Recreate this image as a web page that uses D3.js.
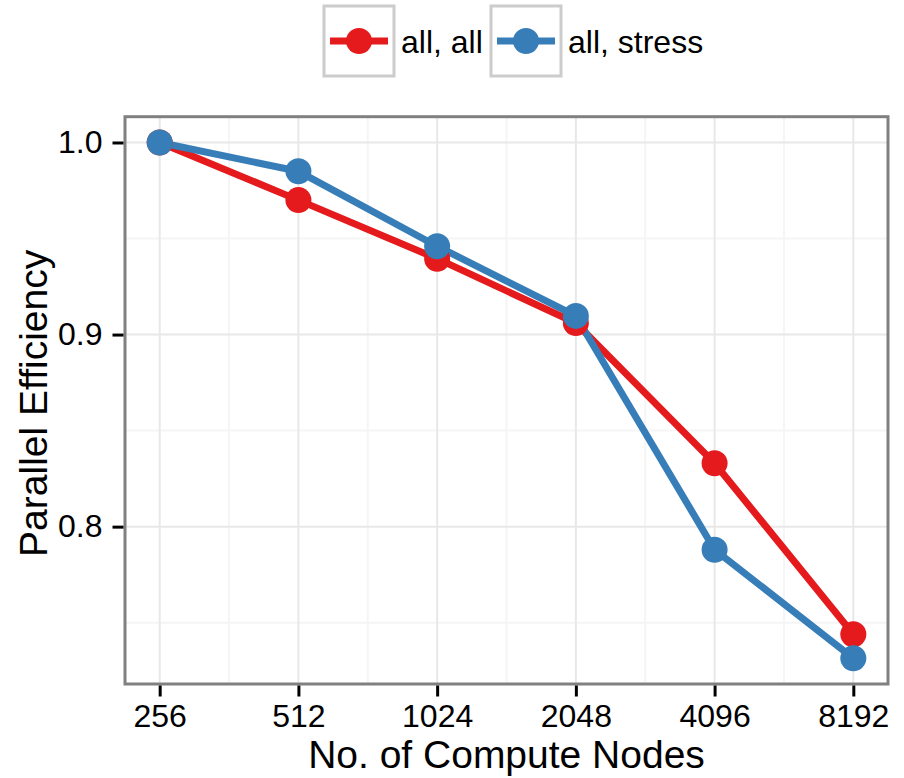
<!DOCTYPE html>
<html>
<head>
<meta charset="utf-8">
<script src="https://cdn.jsdelivr.net/npm/d3@7"></script>
<style>
  html, body { margin: 0; padding: 0; background: #ffffff; }
  svg { display: block; }
  text { font-family: "Liberation Sans", Arial, Helvetica, sans-serif; fill: #000; }
</style>
</head>
<body>
<svg id="chart" width="904" height="778"></svg>
<script>
// ---- data ----
const nodes = [256, 512, 1024, 2048, 4096, 8192];
const tickLabels = ["256", "512", "1024", "2048", "4096", "8192"];
const allAll = [1.000, 0.970, 0.9395, 0.906, 0.833, 0.744];
const allStress = [1.000, 0.985, 0.946, 0.9097, 0.788, 0.7315];
const yTicks = [0.8, 0.9, 1.0];
const yTickLabels = ["0.8", "0.9", "1.0"];
const seriesNames = ["all, all", "all, stress"];
const seriesColors = ["#E41A1C", "#377EB8"];
const xTitle = "No. of Compute Nodes";
const yTitle = "Parallel Efficiency";

// ---- layout ----
const W = 904, H = 778;
const panel = { left: 125, right: 888, top: 116.7, bottom: 684 };

const svg = d3.select("#chart");
svg.append("rect").attr("width", W).attr("height", H).attr("fill", "#fff");

// scales (ggplot-like 5% expansion)
const lx = nodes.map(d => Math.log2(d));
const lxMin = d3.min(lx), lxMax = d3.max(lx), lxR = lxMax - lxMin;
const x = d3.scaleLog().base(2)
  .domain([Math.pow(2, lxMin - 0.05 * lxR), Math.pow(2, lxMax + 0.05 * lxR)])
  .range([panel.left, panel.right]);

const allVals = allAll.concat(allStress);
const yMin = d3.min(allVals), yMax = d3.max(allVals), yR = yMax - yMin;
const y = d3.scaleLinear()
  .domain([yMin - 0.05 * yR, yMax + 0.05 * yR])
  .range([panel.bottom, panel.top]);

const g = svg.append("g");

// minor grid
const xMinor = d3.range(lxMin + 0.5, lxMax, 1).map(v => Math.pow(2, v));
const yMinor = [0.75, 0.85, 0.95];
g.selectAll(".xminor").data(xMinor).enter().append("line")
  .attr("x1", d => x(d)).attr("x2", d => x(d))
  .attr("y1", panel.top).attr("y2", panel.bottom)
  .attr("stroke", "#f5f5f5").attr("stroke-width", 2);
g.selectAll(".yminor").data(yMinor).enter().append("line")
  .attr("y1", d => y(d)).attr("y2", d => y(d))
  .attr("x1", panel.left).attr("x2", panel.right)
  .attr("stroke", "#f5f5f5").attr("stroke-width", 2);

// major grid
g.selectAll(".xmajor").data(nodes).enter().append("line")
  .attr("x1", d => x(d)).attr("x2", d => x(d))
  .attr("y1", panel.top).attr("y2", panel.bottom)
  .attr("stroke", "#e8e8e8").attr("stroke-width", 2);
g.selectAll(".ymajor").data(yTicks).enter().append("line")
  .attr("y1", d => y(d)).attr("y2", d => y(d))
  .attr("x1", panel.left).attr("x2", panel.right)
  .attr("stroke", "#e8e8e8").attr("stroke-width", 2);

// series
const series = [allAll, allStress].map((vals, i) => ({
  name: seriesNames[i], color: seriesColors[i],
  pts: nodes.map((n, j) => ({ n: n, v: vals[j] }))
}));

const line = d3.line().x(d => x(d.n)).y(d => y(d.v));
series.forEach(s => {
  g.append("path").datum(s.pts)
    .attr("d", line).attr("fill", "none")
    .attr("stroke", s.color).attr("stroke-width", 7)
    .attr("stroke-linejoin", "round");
});
series.forEach(s => {
  g.selectAll(null).data(s.pts).enter().append("circle")
    .attr("cx", d => x(d.n)).attr("cy", d => y(d.v))
    .attr("r", 13).attr("fill", s.color);
});

// panel border
svg.append("rect")
  .attr("x", panel.left).attr("y", panel.top)
  .attr("width", panel.right - panel.left).attr("height", panel.bottom - panel.top)
  .attr("fill", "none").attr("stroke", "#808080").attr("stroke-width", 3);

// axes
const xAxis = d3.axisBottom(x).tickValues(nodes)
  .tickFormat((d, i) => tickLabels[i]).tickSize(11).tickSizeOuter(0).tickPadding(7.5);
const xg = svg.append("g").attr("transform", `translate(0,${panel.bottom + 1.5})`).call(xAxis);
xg.select(".domain").remove();
xg.selectAll(".tick line").attr("stroke", "#000").attr("stroke-width", 3);
xg.selectAll(".tick text").attr("font-size", 32).attr("font-family", '"Liberation Sans", Arial, sans-serif').attr("fill", "#000");

const yAxis = d3.axisLeft(y).tickValues(yTicks)
  .tickFormat((d, i) => yTickLabels[i]).tickSize(11).tickSizeOuter(0).tickPadding(10);
const yg = svg.append("g").attr("transform", `translate(${panel.left - 1.5},0)`).call(yAxis);
yg.select(".domain").remove();
yg.selectAll(".tick line").attr("stroke", "#000").attr("stroke-width", 3);
yg.selectAll(".tick text").attr("font-size", 32).attr("font-family", '"Liberation Sans", Arial, sans-serif').attr("fill", "#000");

// titles
svg.append("text").attr("x", (panel.left + panel.right) / 2).attr("y", 768)
  .attr("text-anchor", "middle").attr("font-size", 39).text(xTitle);
svg.append("text")
  .attr("transform", `translate(47,${(panel.top + panel.bottom) / 2 + 3}) rotate(-90)`)
  .attr("text-anchor", "middle").attr("font-size", 39).text(yTitle);

// legend
const legendKeys = [{ x: 324 }, { x: 491 }];
const legend = svg.append("g");
series.forEach((s, i) => {
  const kx = legendKeys[i].x, ky = 6, ks = 70;
  legend.append("rect").attr("x", kx).attr("y", ky).attr("width", ks).attr("height", ks)
    .attr("fill", "#fff").attr("stroke", "#cccccc").attr("stroke-width", 3);
  legend.append("line").attr("x1", kx + 6).attr("x2", kx + ks - 6)
    .attr("y1", ky + ks / 2).attr("y2", ky + ks / 2)
    .attr("stroke", s.color).attr("stroke-width", 7);
  legend.append("circle").attr("cx", kx + ks / 2).attr("cy", ky + ks / 2).attr("r", 13)
    .attr("fill", s.color);
  legend.append("text").attr("x", kx + ks + 7).attr("y", 52.5)
    .attr("font-size", 32).text(s.name);
});
</script>
</body>
</html>
